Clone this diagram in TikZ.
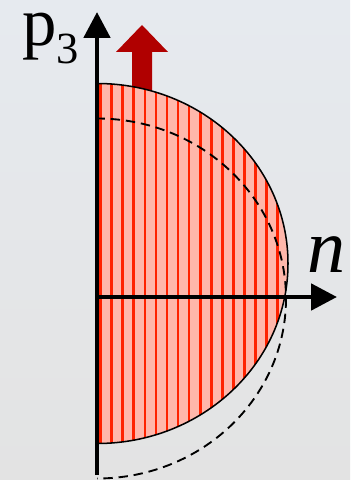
\documentclass[tikz,border=0pt]{standalone}
\usepackage{fontspec}
\setmainfont{Liberation Serif}
\usetikzlibrary{arrows.meta}
\definecolor{BackTop}{HTML}{E6EAEF}
\definecolor{BackBottom}{HTML}{E3E3E3}
\definecolor{Filling}{HTML}{FFB7AB}
\definecolor{Stripe}{HTML}{FF2200}
\definecolor{Shift}{HTML}{B00000}
\tikzset{
  axis/.style={line width=4.25pt, draw=black, -{Triangle[length=22pt,width=22pt]}},
  stripe/.style={line width=2.2pt, draw=Stripe},
  rim/.style={line width=1.3pt, draw=black},
  moved/.style={line width=1.6pt, draw=black, dash pattern=on 8pt off 5pt}
}
\begin{document}
\begin{tikzpicture}[x=0.03cm,y=-0.03cm]
  \useasboundingbox (0,0) rectangle (350,480);
  \fill[top color=BackTop, bottom color=BackBottom] (0,0) rectangle (350,480);
  \coordinate (origin) at (95,297);
  \coordinate (ptop) at (97,12);
  \coordinate (pbot) at (97,475);
  \coordinate (nend) at (337,297);
  \coordinate (c1) at (97,263.5);
  \coordinate (c2) at (97,298.5);

  % shift arrow
  \fill[Shift] (132,95) -- (132,52) -- (116,52) -- (142,25) -- (168,52) -- (152,52) -- (152,95) -- cycle;

  \begin{scope}
    \clip (97,0) rectangle (350,480);
    \fill[Filling] (c1) ellipse [x radius=191, y radius=180];
    \begin{scope}
      \clip (c1) ellipse [x radius=191, y radius=180];
      \foreach \i in {0,...,17}
        \draw[stripe] ({100.5+11.08*\i},80) -- ++(0,370);
    \end{scope}
    \draw[rim] (c1) ellipse [x radius=191, y radius=180];
    \draw[moved] (c2) ellipse [x radius=189, y radius=180];
  \end{scope}

  \draw[axis] (pbot) -- (ptop);
  \draw[axis] (origin) -- (nend);

  \node[anchor=base west, inner sep=0] (plabel) at (22,46) {\fontsize{58.7}{60}\selectfont p\raisebox{-15pt}{\fontsize{38}{40}\selectfont 3}};
  \node[anchor=base west, inner sep=0] (nlabel) at (307,272) {\fontsize{65}{66}\selectfont\itshape n};
\end{tikzpicture}
\end{document}
